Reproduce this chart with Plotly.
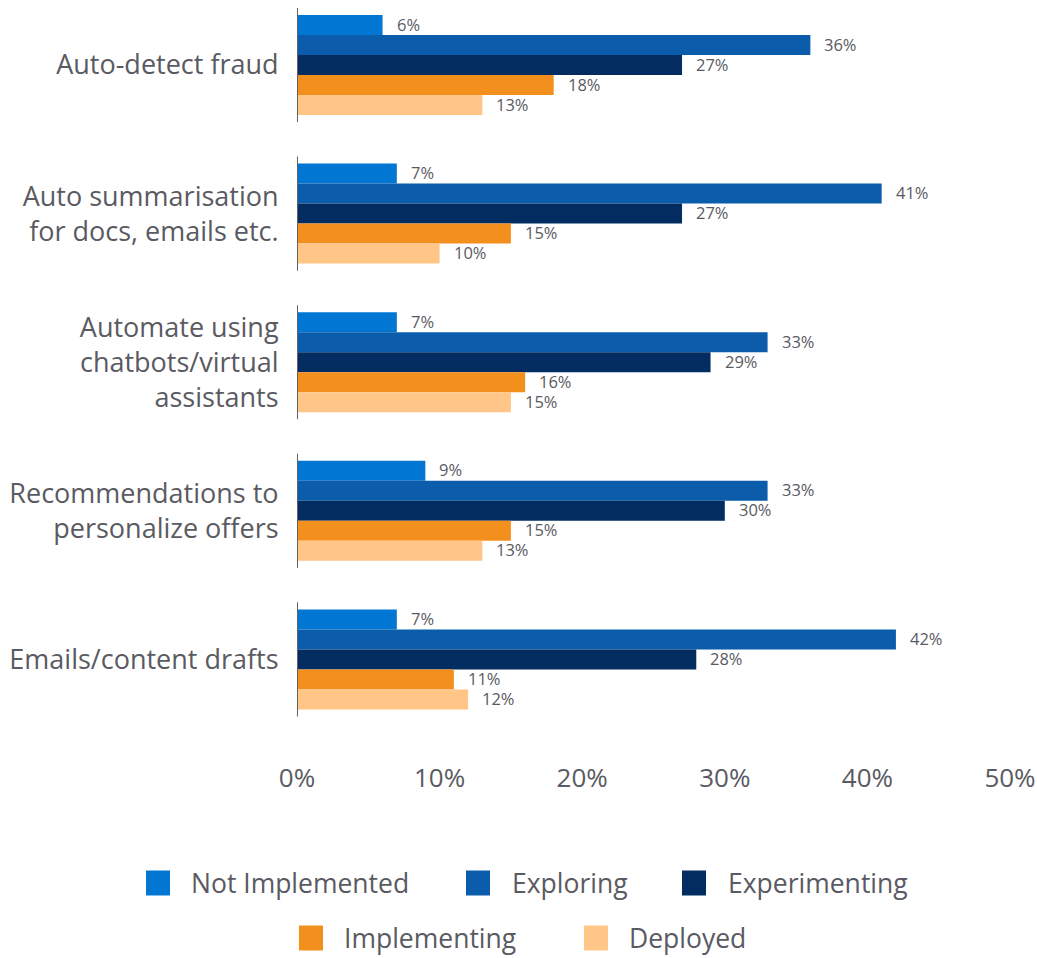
import plotly.graph_objects as go

# Use cases, top to bottom
categories = [
    "Auto-detect fraud",
    "Auto summarisation<br>for docs, emails etc.",
    "Automate using<br>chatbots/virtual<br>assistants",
    "Recommendations to<br>personalize offers",
    "Emails/content drafts",
]

# Share of respondents (%) per adoption stage
not_implemented = [6, 7, 7, 9, 7]
exploring = [36, 41, 33, 33, 42]
experimenting = [27, 27, 29, 30, 28]
implementing = [18, 15, 16, 15, 11]
deployed = [13, 10, 15, 13, 12]

series_names = ["Not Implemented", "Exploring", "Experimenting", "Implementing", "Deployed"]
series_values = [not_implemented, exploring, experimenting, implementing, deployed]
series_colors = ["#0176D3", "#0B5CAB", "#032D60", "#F38F1D", "#FFC687"]

x_ticks = [0, 10, 20, 30, 40, 50]
x_tick_labels = ["0%", "10%", "20%", "30%", "40%", "50%"]

FONT = "Open Sans"
TEXT = "#5a5a62"

W, H = 1037, 958
PLOT_L, PLOT_R = 297, 1010
PLOT_T, PLOT_B = 0, 740

fig = go.Figure()
for name, vals, col in zip(series_names, series_values, series_colors):
    fig.add_trace(go.Bar(
        y=categories, x=vals, name=name, orientation="h",
        marker=dict(color=col, line=dict(width=0)),
        showlegend=False,
    ))

# value labels to the right of each bar
n = len(series_names)
for k, vals in enumerate(series_values):
    for cat, v in zip(categories, vals):
        fig.add_annotation(
            x=v, y=cat, text=f"{v}%", showarrow=False,
            xanchor="left", yanchor="middle", xshift=12,
            yshift=(n // 2 - k) * 20 + 1,
            font=dict(family=FONT, size=16.5, color=TEXT),
        )

# short axis line segment beside each group
for i in range(len(categories)):
    fig.add_shape(type="line", xref="x", yref="y", x0=0, x1=0,
                  y0=i - 0.384, y1=i + 0.384,
                  line=dict(color="#5f5f66", width=2))

# legend drawn as swatches + labels below the chart
def px_x(p):
    return (p - PLOT_L) / (PLOT_R - PLOT_L)

def px_y(p):
    return (PLOT_B - p) / (PLOT_B - PLOT_T)

legend_rows = [
    (883, [(146, 189), (466, 510), (682, 726)]),
    (938, [(299, 342), (584, 627)]),
]
idx = 0
for cy, items in legend_rows:
    for sx, tx in items:
        fig.add_shape(type="rect", xref="paper", yref="paper",
                      x0=px_x(sx), x1=px_x(sx + 24),
                      y0=px_y(cy - 12.5), y1=px_y(cy + 12.5),
                      fillcolor=series_colors[idx], line=dict(width=0))
        fig.add_annotation(xref="paper", yref="paper", x=px_x(tx), y=px_y(cy),
                           text=series_names[idx], showarrow=False,
                           xanchor="left", yanchor="middle",
                           font=dict(family=FONT, size=26.5, color=TEXT))
        idx += 1

band = 148.6
y_top = -(65 - PLOT_T) / band
y_bot = (PLOT_B - 65) / band

fig.update_layout(
    width=W, height=H,
    margin=dict(l=PLOT_L, r=W - PLOT_R, t=PLOT_T, b=H - PLOT_B, autoexpand=False),
    barmode="group", bargap=0.327, bargroupgap=0,
    plot_bgcolor="white", paper_bgcolor="white",
    font=dict(family=FONT, color=TEXT),
    xaxis=dict(range=[0, 50], tickmode="array", tickvals=x_ticks,
               ticktext=x_tick_labels,
               showgrid=False, zeroline=False, showline=False,
               ticks="outside", ticklen=15, tickcolor="rgba(0,0,0,0)",
               tickfont=dict(family=FONT, size=26, color=TEXT)),
    yaxis=dict(range=[y_bot, y_top], showgrid=False, zeroline=False,
               showline=False, ticks="outside", ticklen=12,
               tickcolor="rgba(0,0,0,0)",
               tickfont=dict(family=FONT, size=27, color=TEXT)),
)

fig.write_html("out.html")
